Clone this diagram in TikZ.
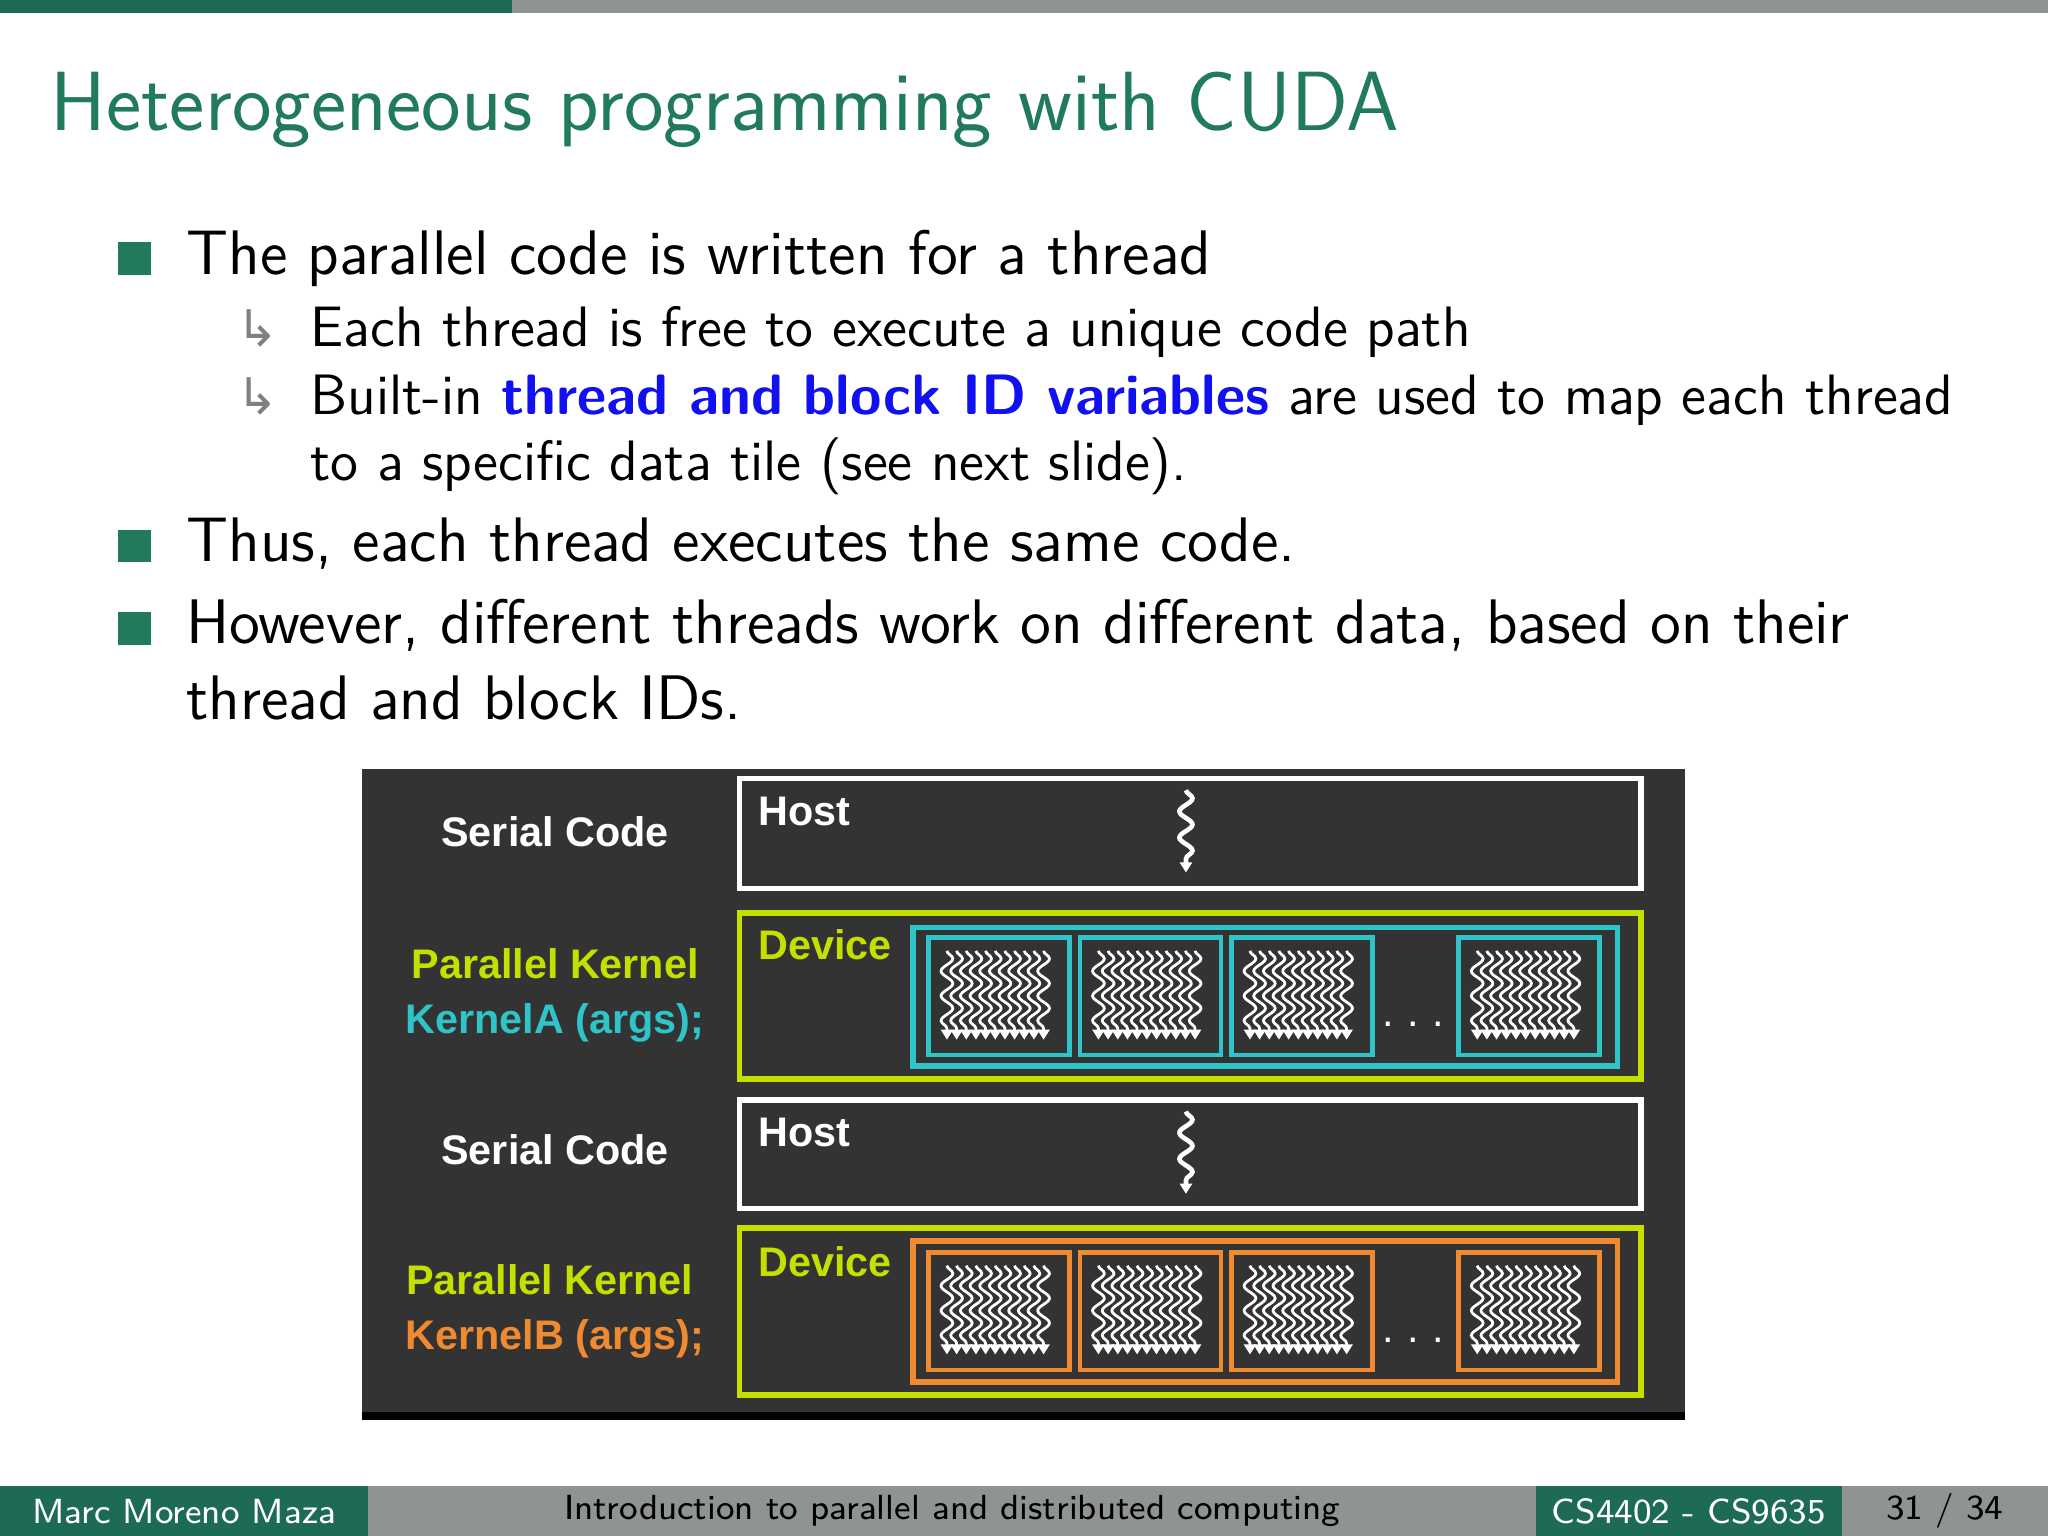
\documentclass[tikz,border=0pt]{standalone}
\usepackage{fontspec}
\newfontfamily\arial{Liberation Sans}
\newfontfamily\djv{DejaVu Sans}
\usetikzlibrary{calc,decorations.pathmorphing,arrows.meta}
\definecolor{beamgreen}{HTML}{1D6B55}
\definecolor{titlegreen}{HTML}{217A5E}
\definecolor{footgray}{HTML}{8F9391}
\definecolor{panel}{HTML}{333333}
\definecolor{devlime}{HTML}{C4E000}
\definecolor{kcyan}{HTML}{2EC4C8}
\definecolor{korange}{HTML}{F08A30}
\definecolor{idblue}{HTML}{1010F0}
\begin{document}
\begin{tikzpicture}[x=0.01cm,y=-0.01cm,
  bul/.style={fill=titlegreen,minimum size=0.25cm,inner sep=0pt},
  txt/.style={anchor=base west,inner sep=0pt,font=\sffamily\fontsize{13.7}{16}\selectfont},
  sub/.style={anchor=base west,inner sep=0pt,font=\sffamily\fontsize{12.4}{15}\selectfont},
  arr/.style={anchor=base west,inner sep=0pt,text=gray,font=\djv\fontsize{11}{14}\selectfont},
  lab/.style={font=\arial\bfseries\fontsize{9}{11}\selectfont,inner sep=0pt},
  box/.style={draw,line width=1.2pt,anchor=north west,inner sep=0pt},
  blk/.style={draw,line width=1pt,anchor=north west,minimum width=1.08cm,minimum height=0.9cm,inner sep=0pt},
  thr/.style={draw=white,line width=0.6pt,-{Triangle[length=2.2pt,width=2.6pt]},
    decorate,decoration={snake,amplitude=0.45mm,segment length=1.9mm,post length=1.5pt}},
  foot/.style={font=\sffamily\fontsize{7.6}{9}\selectfont,inner sep=0pt}]
\useasboundingbox (0,0) rectangle (1568,1176);
% top bar
\fill[beamgreen] (0,0) rectangle (392,10);
\fill[footgray] (392,0) rectangle (1568,10);
% title
\node[anchor=base west,inner sep=0pt,text=titlegreen,font=\sffamily\fontsize{18.3}{22}\selectfont] (title) at (38,100) {Heterogeneous programming with CUDA};
% bullets
\node[bul] (b1) at (103,198) {};
\node[txt] (t1) at (142,210) {The parallel code is written for a thread};
\node[arr] (a1) at (180,265) {↳};
\node[sub] (t2) at (237,265) {Each thread is free to execute a unique code path};
\node[arr] (a2) at (180,317) {↳};
\node[sub] (t3) at (237,317) {Built-in \textcolor{idblue}{\bfseries thread and block ID variables} are used to map each thread};
\node[sub] (t4) at (237,368) {to a specific data tile (see next slide).};
\node[bul] (b2) at (103,418) {};
\node[txt] (t5) at (142,430) {Thus, each thread executes the same code.};
\node[bul] (b3) at (103,481) {};
\node[txt] (t6) at (142,493) {However, different threads work on different data, based on their};
\node[txt] (t7) at (142,551) {thread and block IDs.};
% diagram panel
\fill[panel] (277,589) rectangle (1290,1087);
\fill[black] (277,1081) rectangle (1290,1087);
\node[lab,text=white] (s1) at (425,637) {Serial Code};
\node[lab,text=devlime] (p1) at (425,738) {Parallel Kernel};
\node[lab,text=kcyan] (k1) at (425,783) {KernelA (args);};
\node[lab,text=white] (s2) at (425,880) {Serial Code};
\node[lab,text=devlime] (p2) at (421,980) {Parallel Kernel};
\node[lab,text=korange] (k2) at (425,1025) {KernelB (args);};
% host boxes
\node[box,draw=white,minimum width=6.9cm,minimum height=0.84cm] (h1) at (564,594) {};
\node[lab,text=white,anchor=base west] (h1l) at (580,632) {Host};
\coordinate (h1a) at (908,605); \coordinate (h1b) at (908,668);
\draw[thr,line width=1pt,decoration={amplitude=0.5mm,segment length=2mm}] (h1a) -- (h1b);
\node[box,draw=white,minimum width=6.9cm,minimum height=0.83cm] (h2) at (564,840) {};
\node[lab,text=white,anchor=base west] (h2l) at (580,878) {Host};
\coordinate (h2a) at (908,851); \coordinate (h2b) at (908,914);
\draw[thr,line width=1pt,decoration={amplitude=0.5mm,segment length=2mm}] (h2a) -- (h2b);
% device boxes
\node[box,draw=devlime,minimum width=6.9cm,minimum height=1.27cm] (d1) at (564,697) {};
\node[lab,text=devlime,anchor=base west] (d1l) at (580,735) {Device};
\node[box,draw=kcyan,minimum width=5.39cm,minimum height=1.06cm] (g1) at (697,708) {};
\node[box,draw=devlime,minimum width=6.9cm,minimum height=1.28cm] (d2) at (564,938) {};
\node[lab,text=devlime,anchor=base west] (d2l) at (580,977) {Device};
\node[box,draw=korange,minimum width=5.39cm,minimum height=1.08cm] (g2) at (697,948) {};
\node[text=white,font=\arial\fontsize{9}{9}\selectfont,inner sep=0pt,anchor=base] (dots1) at (1082,786) {.\,\,.\,\,.};
\node[text=white,font=\arial\fontsize{9}{9}\selectfont,inner sep=0pt,anchor=base] (dots2) at (1082,1028) {.\,\,.\,\,.};
% thread blocks
\foreach \c/\y/\n in {kcyan/716/A, korange/957/B}{
  \foreach \x [count=\k] in {709,825,941,1115}{
    \node[blk,draw=\c] (t\n\k) at (\x,\y) {};
    \foreach \i in {0,...,10}{
      \draw[thr] ($(t\n\k.north west)+(16+\i*7.4,12)$) -- ($(t\n\k.north west)+(16+\i*7.4,80)$);
    }
  }
}
% footer
\fill[beamgreen] (0,1138) rectangle (282,1176);
\fill[footgray] (282,1138) rectangle (1176,1176);
\fill[beamgreen] (1176,1138) rectangle (1410,1176);
\fill[footgray] (1410,1138) rectangle (1568,1176);
\node[foot,text=white] (f1) at (141,1157) {Marc Moreno Maza};
\node[foot] (f2) at (729,1157) {Introduction to parallel and distributed computing};
\node[foot,text=white] (f3) at (1293,1157) {CS4402 - CS9635};
\node[foot] (f4) at (1489,1157) {31 / 34};
\end{tikzpicture}
\end{document}
